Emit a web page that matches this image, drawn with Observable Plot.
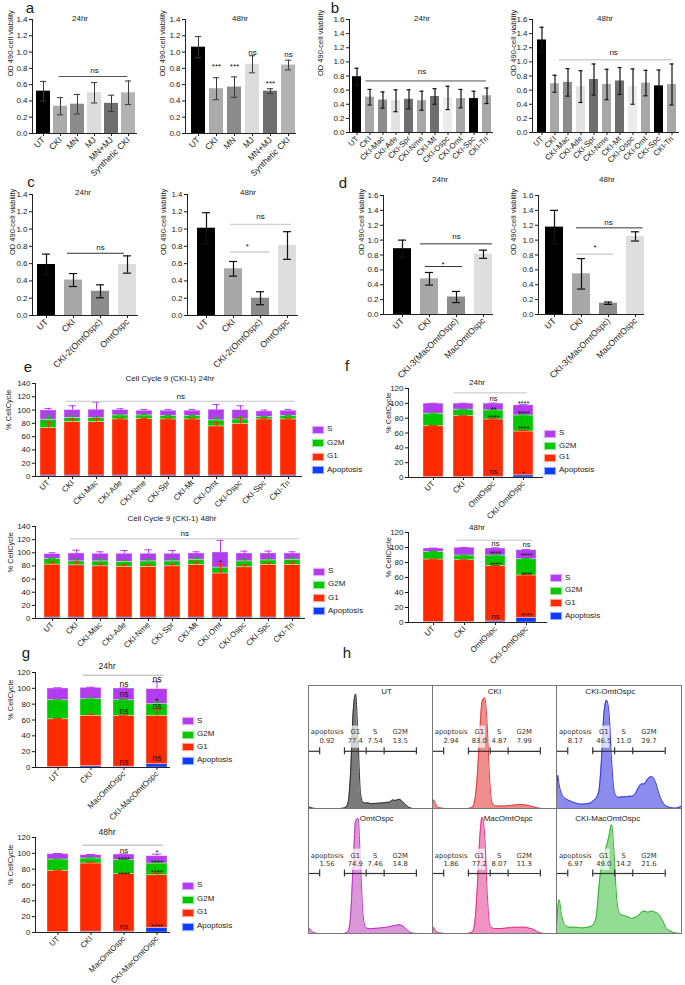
<!DOCTYPE html>
<html><head><meta charset="utf-8">
<script src="https://cdn.jsdelivr.net/npm/d3@7"></script>
<script src="https://cdn.jsdelivr.net/npm/@observablehq/plot@0.6"></script>
<style>
html,body{margin:0;padding:0;background:#fff;}
#root{position:relative;width:685px;height:985px;overflow:hidden;background:#fff;font-family:"Liberation Sans",Arial,sans-serif;}
</style></head>
<body><div id="root"></div>
<script>
// ---------------- DATA ----------------
// Panel a
const aCats = ["UT","CKI","MN","MJ","MN+MJ","Synthetic CKI"];
const aFills = ["#000000","#ababab","#8c8c8c","#dcdcdc","#6f6f6f","#b3b3b3"];
const a24Mean = [0.52,0.335,0.36,0.50,0.37,0.50];
const a24SD   = [0.12,0.105,0.12,0.125,0.10,0.145];
const a48Mean = [1.06,0.55,0.57,0.85,0.52,0.84];
const a48SD   = [0.13,0.135,0.125,0.105,0.03,0.06];
const a24Brackets = [["CKI","Synthetic CKI",0.70]];
const a24Notes = [["MJ","MJ",0.78,"ns"]];
const a48Notes = [["CKI","CKI",0.855,"***"],["MN","MN",0.855,"***"],["MJ","MJ",1.0,"ns"],["MN+MJ","MN+MJ",0.65,"***"],["Synthetic CKI","Synthetic CKI",0.97,"ns"]];

// Panel b
const bCats = ["UT","CKI","CKI-Mac","CKI-Ade","CKI-Spr","CKI-Nme","CKI-Mt","CKI-Ospc","CKI-Omt","CKI-Spc","CKI-Tri"];
const bFills = ["#000000","#a8a8a8","#8c8c8c","#e2e2e2","#6e6e6e","#a8a8a8","#6e6e6e","#ececec","#a8a8a8","#000000","#a8a8a8"];
const b24Mean = [0.79,0.50,0.46,0.45,0.47,0.45,0.51,0.49,0.48,0.48,0.52];
const b24SD   = [0.12,0.11,0.115,0.155,0.135,0.135,0.11,0.165,0.13,0.105,0.11];
const b48Mean = [1.31,0.69,0.71,0.65,0.75,0.68,0.73,0.65,0.70,0.66,0.68];
const b48SD   = [0.18,0.12,0.195,0.225,0.22,0.215,0.19,0.25,0.18,0.225,0.29];
const b24Brackets = [["CKI","CKI-Tri",0.73]];
const b24Notes = [["CKI-Nme","CKI-Nme",0.86,"ns"]];
const b48Brackets = [["CKI","CKI-Tri",1.03]];
const b48Notes = [["CKI-Nme","CKI-Mt",1.14,"ns"]];

// Panel c
const cCats = ["UT","CKI","CKI-2(OmtOspc)","OmtOspc"];
const cFills = ["#000000","#a8a8a8","#8c8c8c","#dedede"];
const c24Mean = [0.59,0.41,0.28,0.59];
const c24SD   = [0.12,0.075,0.075,0.10];
const c48Mean = [1.01,0.54,0.20,0.81];
const c48SD   = [0.18,0.085,0.075,0.16];
const c24Brackets = [["CKI","OmtOspc",0.72]];
const c24Notes = [["CKI-2(OmtOspc)","CKI-2(OmtOspc)",0.79,"ns"]];
const c48Brackets = [["CKI","OmtOspc",1.055],["CKI","CKI-2(OmtOspc)",0.735]];
const c48Notes = [["CKI-2(OmtOspc)","CKI-2(OmtOspc)",1.15,"ns"],["CKI","CKI-2(OmtOspc)",0.83,"*"]];

// Panel d
const dCats = ["UT","CKI","CKI-3(MacOmtOspc)","MacOmtOspc"];
const dFills = ["#000000","#a8a8a8","#8c8c8c","#dedede"];
const d24Mean = [0.885,0.48,0.235,0.81];
const d24SD   = [0.115,0.085,0.075,0.055];
const d48Mean = [1.175,0.547,0.152,1.05];
const d48SD   = [0.225,0.205,0.016,0.062];
const d24Brackets = [["CKI","MacOmtOspc",0.95],["CKI","CKI-3(MacOmtOspc)",0.645]];
const d24Notes = [["CKI-3(MacOmtOspc)","CKI-3(MacOmtOspc)",1.055,"ns"],["CKI","CKI-3(MacOmtOspc)",0.71,"*"]];
const d48Brackets = [["CKI","MacOmtOspc",1.165],["CKI","CKI-3(MacOmtOspc)",0.81]];
const d48Notes = [["CKI-3(MacOmtOspc)","CKI-3(MacOmtOspc)",1.24,"ns"],["CKI","CKI-3(MacOmtOspc)",0.93,"*"]];

// Cell cycle phases
const PHASES = ["Apoptosis","G1","G2M","S"];
const PHASE_COLORS = ["#0a3cff","#ff2a00","#00c800","#b43cf0"];

// Panel e
const eCats = ["UT","CKI","CKI-Mac","CKI-Ade","CKI-Nme","CKI-Spr","CKI-Mt","CKI-Omt","CKI-Ospc","CKI-Spc","CKI-Tri"];
const e24Apop = [1.5,1.5,1.5,1.5,1.5,1.5,1.5,1.5,1.5,1.5,1.5];
const e24G1   = [71.5,80.5,80.5,84.5,85,84.5,84.5,74,77.5,84.5,84.5];
const e24G2M  = [12.5,6,6,6,5.5,5,5,9,7,3.5,5];
const e24S    = [14,12,12.5,8,7,8,8,16,14,8.5,8];
const e24ErrS   = [3,6.5,11.5,2,2,2,2,8,6.5,2,2];
const e24ErrG2M = [5.5,3,1.5,1,1.5,1,1,3.5,4,1,1];
const e24ErrG1  = [8.5,4,5,1,1,1,1,6,9,1,1];
const e24Brackets = [["CKI","CKI-Tri",113.3]];
const e24Notes = [["CKI-Spr","CKI-Mt",121,"ns"]];

const e48Apop = [1.5,1.5,1.5,1.5,1.5,1.5,1.5,1.5,1.5,1.5,1.5];
const e48G1   = [80.5,79.5,78,77,77,78,80,67,76.5,80,80];
const e48G2M  = [8.5,6,7.5,7.5,8.5,7.5,8,9,9,7,8];
const e48S    = [7.5,12,11.5,12.5,11.5,11.5,9.5,23,12,10.5,9.5];
const e48ErrS   = [2,5,3,5,6,5,2.5,18.5,3.5,3.5,2.5];
const e48ErrG2M = [1,2.5,3,2.5,2.5,3,2.5,0,2.5,3,2.5];
const e48ErrG1  = [4,5,3,3,3,3,4.5,14,4,2.5,4.5];
const e48Brackets = [["CKI","CKI-Tri",121.2]];
const e48Notes = [["CKI-Spr","CKI-Mt",129.5,"ns"],["CKI-Omt","CKI-Omt",89.4,"*"]];

// Panel f
const fCats = ["UT","CKI","OmtOspc","CKI-OmtOspc"];
const f24Apop = [0.5,0.5,1,3];
const f24G1   = [68.7,82.3,77.3,59];
const f24G2M  = [16.8,8.6,12.2,21.7];
const f24S    = [13.6,8.2,9.1,13.6];
const f24ErrS   = [0.5,0.5,0.8,0.8];
const f24ErrG2M = [0.8,0.5,0.8,0.8];
const f24ErrG1  = [0.8,0.5,0.8,1.5];
const f24Brackets = [["CKI","CKI-OmtOspc",114.1]];
const f24Notes = [["OmtOspc","OmtOspc",106,"ns"],["OmtOspc","OmtOspc",95,"**"],["OmtOspc","OmtOspc",84.6,"****"],["OmtOspc","OmtOspc",8.1,"ns"],
  ["CKI-OmtOspc","CKI-OmtOspc",103,"****"],["CKI-OmtOspc","CKI-OmtOspc",89.6,"****"],["CKI-OmtOspc","CKI-OmtOspc",68.8,"****"],["CKI-OmtOspc","CKI-OmtOspc",8,"*"]];

const f48Apop = [0.5,0.5,1.5,6.2];
const f48G1   = [83.5,82.6,73.6,56.5];
const f48G2M  = [10.2,6.2,14.2,21.7];
const f48S    = [4.5,10.3,9.4,12];
const f48ErrS   = [0.5,0.5,0.8,0.8];
const f48ErrG2M = [0.5,0.5,0.8,0.8];
const f48ErrG1  = [0.5,0.5,0.8,1];
const f48Brackets = [["CKI","CKI-OmtOspc",109.8]];
const f48Notes = [["OmtOspc","OmtOspc",105.3,"ns"],["OmtOspc","OmtOspc",95.1,"****"],["OmtOspc","OmtOspc",80.9,"****"],["OmtOspc","OmtOspc",8.4,"ns"],
  ["CKI-OmtOspc","CKI-OmtOspc",104,"ns"],["CKI-OmtOspc","CKI-OmtOspc",92,"****"],["CKI-OmtOspc","CKI-OmtOspc",67.6,"****"],["CKI-OmtOspc","CKI-OmtOspc",12.9,"****"]];

// Panel g
const gCats = ["UT","CKI","MacOmtOspc","CKI-MacOmtOspc"];
const g24Apop = [0.5,1.7,1,4.2];
const g24G1   = [60.5,63.6,64.3,61.1];
const g24G2M  = [24,21,19.7,14.7];
const g24S    = [14.8,14.3,14.8,19];
const g24ErrS   = [0.8,0.8,0.5,9.2];
const g24ErrG2M = [0.5,1.5,0.8,2.5];
const g24ErrG1  = [0.8,2.1,0.8,8.4];
const g24Brackets = [["CKI","CKI-MacOmtOspc",116.6]];
const g24Notes = [["MacOmtOspc","MacOmtOspc",105.3,"ns"],["MacOmtOspc","MacOmtOspc",92.6,"ns"],["MacOmtOspc","MacOmtOspc",71.2,"ns"],["MacOmtOspc","MacOmtOspc",7.2,"ns"],
  ["CKI-MacOmtOspc","CKI-MacOmtOspc",112,"ns"],["CKI-MacOmtOspc","CKI-MacOmtOspc",87.2,"*"],["CKI-MacOmtOspc","CKI-MacOmtOspc",77.5,"ns"],["CKI-MacOmtOspc","CKI-MacOmtOspc",12.2,"ns"]];

const g48Apop = [0.5,1,1,5.9];
const g48G1   = [77.4,86.2,72.7,66.5];
const g48G2M  = [14.3,6.3,17.7,14.8];
const g48S    = [6.8,4.2,7.1,9.2];
const g48ErrS   = [0.8,0.8,0.8,2.6];
const g48ErrG2M = [0.5,0.8,0.8,2.1];
const g48ErrG1  = [0.8,1.6,0.8,2.1];
const g48Brackets = [["CKI","CKI-MacOmtOspc",110.3]];
const g48Notes = [["MacOmtOspc","MacOmtOspc",103.2,"ns"],["MacOmtOspc","MacOmtOspc",95.6,"****"],["MacOmtOspc","MacOmtOspc",76.6,"****"],["MacOmtOspc","MacOmtOspc",8,"ns"],
  ["CKI-MacOmtOspc","CKI-MacOmtOspc",104,"*"],["CKI-MacOmtOspc","CKI-MacOmtOspc",92.2,"****"],["CKI-MacOmtOspc","CKI-MacOmtOspc",79.6,"****"],["CKI-MacOmtOspc","CKI-MacOmtOspc",11.4,"****"]];

// Panel h (flow cytometry histograms, relative counts on channel 0-100)
const hX = [0,1,2,4,6,8,10,15,20,25,28,30,32,34,36,38,40,42,44,46,48,50,52,55,58,60,63,65,68,70,73,76,79,82,85,88,91,95,100];
const hUT  = [0.01,0.012,0.006,0.002,0,0,0,0,0,0,0.003,0.01,0.05,0.3,0.78,0.93,0.55,0.12,0.05,0.045,0.045,0.04,0.04,0.042,0.045,0.045,0.05,0.05,0.07,0.065,0.075,0.055,0.025,0.005,0,0,0,0,0];
const hCKI = [0.03,0.07,0.05,0.012,0.005,0.002,0,0,0,0,0,0.003,0.01,0.06,0.25,0.6,0.87,0.9,0.7,0.25,0.05,0.022,0.02,0.02,0.02,0.022,0.025,0.027,0.03,0.032,0.03,0.027,0.02,0.012,0.004,0,0,0,0];
const hCKIOmtOspc = [0.1,0.27,0.2,0.12,0.09,0.075,0.065,0.045,0.035,0.04,0.05,0.07,0.09,0.15,0.4,0.78,0.88,0.78,0.4,0.15,0.1,0.09,0.095,0.095,0.1,0.1,0.12,0.16,0.2,0.2,0.24,0.26,0.22,0.12,0.05,0.02,0.008,0.003,0.02];
const hOmtOspc = [0.02,0.04,0.025,0.008,0.003,0,0,0,0,0,0,0.005,0.02,0.15,0.55,0.9,0.92,0.55,0.15,0.05,0.04,0.038,0.04,0.042,0.045,0.047,0.05,0.055,0.06,0.065,0.07,0.06,0.035,0.01,0.002,0,0,0,0];
const hMacOmtOspc = [0.02,0.05,0.03,0.01,0.004,0.002,0,0,0,0,0,0.004,0.012,0.08,0.35,0.75,0.93,0.8,0.35,0.08,0.045,0.04,0.04,0.04,0.042,0.045,0.047,0.05,0.05,0.05,0.052,0.048,0.04,0.03,0.012,0.003,0,0,0];
const hCKIMacOmtOspc = [0.05,0.2,0.27,0.15,0.08,0.06,0.05,0.05,0.045,0.05,0.06,0.08,0.15,0.38,0.55,0.62,0.7,0.78,0.87,0.65,0.3,0.17,0.15,0.14,0.13,0.12,0.13,0.14,0.17,0.18,0.17,0.18,0.17,0.15,0.1,0.04,0.02,0.005,0];
const hNames = ["UT","CKI","CKI-OmtOspc","OmtOspc","MacOmtOspc","CKI-MacOmtOspc"];
const hApop = ["0.92","2.94","8.17","1.56","1.86","6.97"];
const hG1   = ["77.4","83.0","46.5","74.9","77.2","49.0"];
const hS    = ["7.54","4.87","11.0","7.46","8.07","14.2"];
const hG2M  = ["13.5","7.99","29.7","14.8","11.3","21.6"];
const gateEdges = [0, 9, 29, 46.5, 61, 87];
const gateNames = ["apoptosis","G1","S","G2M"];

// ---------------- HELPERS ----------------
const FONT = '"Liberation Sans", Arial, Helvetica, sans-serif';
const root = document.getElementById("root");
function addText(txt, cx, cy, size, extra = "") {
  const d = document.createElement("div");
  d.textContent = txt;
  d.style.cssText = `position:absolute;left:${cx}px;top:${cy}px;transform:translate(-50%,-50%);font-size:${size}px;font-family:${FONT};white-space:nowrap;line-height:1;color:#1a1a1a;${extra}`;
  root.appendChild(d);
}
function mount(svg, left, top) {
  svg.style.position = "absolute";
  svg.style.left = left + "px";
  svg.style.top = top + "px";
  root.appendChild(svg);
}
const baseStyle = {fontFamily: FONT, fontSize: "8px", color: "#1a1a1a", background: "transparent", overflow: "visible"};

function layout(o, n) {
  const ML = 50, MR = 10, MT = 10, MB = o.mb || 85;
  const step = (o.lastC - o.firstC) / (n - 1);
  const left = o.axisX - ML;
  return {ML, MR, MT, MB, step, left, top: o.yTop - MT,
    width: ML + (o.axisEnd - o.axisX) + MR,
    height: MT + (o.yBot - o.yTop) + MB,
    r0: o.firstC - step / 2 - left, r1: o.lastC + step / 2 - left,
    bw: step * (1 - o.pad)};
}
function commonMarks(o, L, cats) {
  const m = [];
  (o.brackets || []).forEach(([a, b, y], j) => {
    const st = (o.brkStyle || [])[j] || {};
    m.push(Plot.ruleY([{a, b, y}], {x1: "a", x2: "b", y: "y", stroke: st.color || "#555", strokeWidth: st.w || 1,
      insetLeft: st.il != null ? st.il : L.bw * 0.2, insetRight: st.ir != null ? st.ir : L.bw * 0.2}));
  });
  (o.notes || []).forEach(([a, b, y, t]) => {
    const dx = L.step * (cats.indexOf(b) - cats.indexOf(a)) / 2;
    const star = /^\*+$/.test(t);
    m.push(Plot.text([{a, y, t}], {x: "a", y: "y", text: "t", dx, dy: star ? 2.5 : 0, fontSize: o.noteSize || 8, fill: "#111"}));
  });
  m.push(Plot.ruleY([0], {stroke: "#222", strokeWidth: 1}));
  m.push(Plot.frame({anchor: "left", stroke: "#222", strokeWidth: 1}));
  m.push(Plot.axisY({ticks: o.ticks, tickSize: 3, tickPadding: 2, tickFormat: o.fmt, label: null}));
  m.push(Plot.axisX({tickRotate: -45, tickSize: 3, tickPadding: 2, label: null, fontSize: o.xFont || 8}));
  m.push(Plot.text([o.ylabel], {text: d => d, frameAnchor: "left", rotate: -90, dx: -(o.axisX - o.ylabelX), fontSize: 7.5, fill: "#1a1a1a"}));
  return m;
}
function barChart(o) {
  const L = layout(o, o.cats.length);
  const rows = o.cats.map((k, i) => ({k, v: o.mean[i], sd: o.sd[i], fill: o.fills[i]}));
  const cap = L.bw * 0.27;
  const marks = [
    Plot.barY(rows, {x: "k", y: "v", fill: "fill"}),
    Plot.ruleX(rows, {x: "k", y1: d => d.v - d.sd, y2: d => d.v + d.sd, stroke: o.err, strokeWidth: o.errW}),
    Plot.tickY(rows, {x: "k", y: d => d.v + d.sd, stroke: o.err, strokeWidth: o.errW, insetLeft: cap, insetRight: cap}),
    Plot.tickY(rows, {x: "k", y: d => d.v - d.sd, stroke: o.err, strokeWidth: o.errW, insetLeft: cap, insetRight: cap}),
    ...commonMarks(o, L, o.cats)
  ];
  const svg = Plot.plot({
    width: L.width, height: L.height,
    marginLeft: L.ML, marginRight: L.MR, marginTop: L.MT, marginBottom: L.MB,
    style: baseStyle,
    x: {type: "band", domain: o.cats, range: [L.r0, L.r1], paddingInner: o.pad, paddingOuter: o.pad / 2, align: 0.5, label: null},
    y: {domain: [0, o.yMax], label: null},
    color: {type: "identity"},
    marks
  });
  mount(svg, L.left, L.top);
}
function stackChart(o) {
  const L = layout(o, o.cats.length);
  const long = [];
  o.cats.forEach((k, i) => PHASES.forEach(p => long.push({k, phase: p, v: o.parts[p][i]})));
  const errRows = [];
  o.cats.forEach((k, i) => {
    let cum = 0;
    PHASES.forEach(p => {
      cum += o.parts[p][i];
      const e = o.errs[p] ? o.errs[p][i] : 0;
      if (e > 0) errRows.push({k, phase: p, y1: cum, y2: cum + e});
    });
  });
  const cap = L.bw * 0.28;
  const marks = [
    Plot.barY(long, {x: "k", y: "v", fill: "phase", stroke: "white", strokeOpacity: 0.45, strokeWidth: 0.8}),
    Plot.ruleX(errRows, {x: "k", y1: "y1", y2: "y2", stroke: "phase", strokeWidth: 1}),
    Plot.tickY(errRows, {x: "k", y: "y2", stroke: "phase", strokeWidth: 1, insetLeft: cap, insetRight: cap}),
    ...commonMarks(o, L, o.cats)
  ];
  const svg = Plot.plot({
    width: L.width, height: L.height,
    marginLeft: L.ML, marginRight: L.MR, marginTop: L.MT, marginBottom: L.MB,
    style: baseStyle,
    x: {type: "band", domain: o.cats, range: [L.r0, L.r1], paddingInner: o.pad, paddingOuter: o.pad / 2, align: 0.5, label: null},
    y: {domain: [0, o.yMax], label: null},
    color: {domain: PHASES, range: PHASE_COLORS},
    marks
  });
  mount(svg, L.left, L.top);
}
function legend(x, ys) {
  ["S","G2M","G1","Apoptosis"].forEach((p, j) => {
    const sw = document.createElement("div");
    sw.style.cssText = `position:absolute;left:${x}px;top:${ys[j] - 3.5}px;width:10px;height:6px;background:${PHASE_COLORS[PHASES.indexOf(p)]};border:1px solid rgba(255,255,255,0.6);outline:0.5px solid rgba(0,0,0,0.05)`;
    root.appendChild(sw);
    const t = document.createElement("div");
    t.textContent = p;
    t.style.cssText = `position:absolute;left:${x + 15}px;top:${ys[j]}px;transform:translateY(-50%);font-size:8px;font-family:${FONT};line-height:1;color:#1a1a1a;white-space:nowrap`;
    root.appendChild(t);
  });
}
const odTicks14 = d3.range(0, 1.4001, 0.2);
const odTicks16 = d3.range(0, 1.6001, 0.2);
const f1 = d => d.toFixed(1);
const OD = "OD 490-cell viability";
const CC = "% CellCycle";

// ---------------- PANELS a-d ----------------
barChart({cats: aCats, fills: aFills, mean: a24Mean, sd: a24SD, axisX: 32, axisEnd: 137, firstC: 40.5, lastC: 129.5, yTop: 19, yBot: 133, yMax: 1.4, ticks: odTicks14, fmt: f1, pad: 0.2, xFont: 8.5,
  err: "#3a3a3a", errW: 1, ylabel: OD, ylabelX: 10, brackets: a24Brackets, brkStyle: [{color: "#555", il: 5.7, ir: 7.6}], notes: a24Notes});
barChart({cats: aCats, fills: aFills, mean: a48Mean, sd: a48SD, axisX: 185, axisEnd: 296, firstC: 198, lastC: 288.5, yTop: 19, yBot: 133, yMax: 1.4, ticks: odTicks14, fmt: f1, pad: 0.2, xFont: 8.5,
  err: "#3a3a3a", errW: 1, ylabel: OD, ylabelX: 162, notes: a48Notes});
barChart({cats: bCats, fills: bFills, mean: b24Mean, sd: b24SD, axisX: 349, axisEnd: 493, firstC: 356, lastC: 487.5, yTop: 19, yBot: 132, yMax: 1.6, ticks: odTicks16, fmt: f1, pad: 0.3, xFont: 7.8,
  err: "#111", errW: 1.2, ylabel: OD, ylabelX: 320, brackets: b24Brackets, brkStyle: [{color: "#555", il: 0.5, ir: 5}], notes: b24Notes});
barChart({cats: bCats, fills: bFills, mean: b48Mean, sd: b48SD, axisX: 532, axisEnd: 679, firstC: 541, lastC: 673, yTop: 19, yBot: 132, yMax: 1.6, ticks: odTicks16, fmt: f1, pad: 0.3, xFont: 7.8,
  err: "#111", errW: 1.2, ylabel: OD, ylabelX: 513, brackets: b48Brackets, brkStyle: [{color: "#cfcfcf", w: 1.5, il: 9, ir: 4.5}], notes: b48Notes});
barChart({cats: cCats, fills: cFills, mean: c24Mean, sd: c24SD, axisX: 32, axisEnd: 138, firstC: 46, lastC: 128, yTop: 194, yBot: 315, yMax: 1.4, ticks: odTicks14, fmt: f1, pad: 0.33, xFont: 8.7,
  err: "#111", errW: 1.2, ylabel: OD, ylabelX: 12, brackets: c24Brackets, brkStyle: [{color: "#333", il: 3, ir: 12}], notes: c24Notes});
barChart({cats: cCats, fills: cFills, mean: c48Mean, sd: c48SD, axisX: 187, axisEnd: 298, firstC: 205.5, lastC: 288, yTop: 194, yBot: 315, yMax: 1.4, ticks: odTicks14, fmt: f1, pad: 0.33, xFont: 8.7,
  err: "#111", errW: 1.2, ylabel: OD, ylabelX: 163, brackets: c48Brackets, brkStyle: [{color: "#cfcfcf", w: 1.3, il: 6, ir: 5}, {color: "#cfcfcf", w: 1.3, il: 6, ir: 0}], notes: c48Notes});
barChart({cats: dCats, fills: dFills, mean: d24Mean, sd: d24SD, axisX: 383, axisEnd: 493, firstC: 402, lastC: 484, yTop: 195, yBot: 314, yMax: 1.6, ticks: odTicks16, fmt: f1, pad: 0.33, xFont: 8.7,
  err: "#111", errW: 1.2, ylabel: OD, ylabelX: 361, brackets: d24Brackets, brkStyle: [{color: "#333", il: 0, ir: 0}, {color: "#333", il: 5, ir: 3}], notes: d24Notes});
barChart({cats: dCats, fills: dFills, mean: d48Mean, sd: d48SD, axisX: 538, axisEnd: 644, firstC: 554, lastC: 635.5, yTop: 195, yBot: 314, yMax: 1.6, ticks: odTicks16, fmt: f1, pad: 0.33, xFont: 8.7,
  err: "#111", errW: 1.2, ylabel: OD, ylabelX: 513, brackets: d48Brackets, brkStyle: [{color: "#333", il: 4, ir: 1.5}, {color: "#cfcfcf", w: 1.3, il: 4, ir: 4}], notes: d48Notes});

// ---------------- PANELS e-g ----------------
const ccTicks140 = d3.range(0, 141, 20);
const ccTicks120 = d3.range(0, 121, 20);
const fi = d => String(d);
stackChart({cats: eCats, parts: {Apoptosis: e24Apop, G1: e24G1, G2M: e24G2M, S: e24S}, errs: {G1: e24ErrG1, G2M: e24ErrG2M, S: e24ErrS},
  axisX: 35, axisEnd: 302, firstC: 45, lastC: 291, yTop: 383, yBot: 476, yMax: 140, ticks: ccTicks140, fmt: fi, pad: 0.35,
  ylabel: CC, ylabelX: 8, brackets: e24Brackets, brkStyle: [{color: "#c4c4c4", il: 1.5, ir: 1}], notes: e24Notes});
stackChart({cats: eCats, parts: {Apoptosis: e48Apop, G1: e48G1, G2M: e48G2M, S: e48S}, errs: {G1: e48ErrG1, G2M: e48ErrG2M, S: e48ErrS},
  axisX: 35, axisEnd: 305, firstC: 50, lastC: 293.5, yTop: 526, yBot: 618, yMax: 140, ticks: ccTicks140, fmt: fi, pad: 0.35,
  ylabel: CC, ylabelX: 10, brackets: e48Brackets, brkStyle: [{color: "#c4c4c4", il: 2, ir: 1.5}], notes: e48Notes});
stackChart({cats: fCats, parts: {Apoptosis: f24Apop, G1: f24G1, G2M: f24G2M, S: f24S}, errs: {G1: f24ErrG1, G2M: f24ErrG2M, S: f24ErrS},
  axisX: 408, axisEnd: 543, firstC: 432, lastC: 524, yTop: 388, yBot: 477, yMax: 120, ticks: ccTicks120, fmt: fi, pad: 0.35,
  ylabel: CC, ylabelX: 388, brackets: f24Brackets, brkStyle: [{color: "#c4c4c4", il: 1, ir: 6}], notes: f24Notes, noteSize: 7.5});
stackChart({cats: fCats, parts: {Apoptosis: f48Apop, G1: f48G1, G2M: f48G2M, S: f48S}, errs: {G1: f48ErrG1, G2M: f48ErrG2M, S: f48ErrS},
  axisX: 408, axisEnd: 547, firstC: 432.5, lastC: 526.5, yTop: 532, yBot: 622, yMax: 120, ticks: ccTicks120, fmt: fi, pad: 0.35,
  ylabel: CC, ylabelX: 388, brackets: f48Brackets, brkStyle: [{color: "#c4c4c4", il: 2.4, ir: 3.7}], notes: f48Notes, noteSize: 7.5});
stackChart({cats: gCats, parts: {Apoptosis: g24Apop, G1: g24G1, G2M: g24G2M, S: g24S}, errs: {G1: g24ErrG1, G2M: g24ErrG2M, S: g24ErrS},
  axisX: 35, axisEnd: 170, firstC: 57, lastC: 156.5, yTop: 672, yBot: 767, yMax: 120, ticks: ccTicks120, fmt: fi, pad: 0.35, xFont: 8.1,
  ylabel: CC, ylabelX: 10, brackets: g24Brackets, brkStyle: [{color: "#b0b0b0", il: 2.6, ir: 4}], notes: g24Notes, noteSize: 8.5});
stackChart({cats: gCats, parts: {Apoptosis: g48Apop, G1: g48G1, G2M: g48G2M, S: g48S}, errs: {G1: g48ErrG1, G2M: g48ErrG2M, S: g48ErrS},
  axisX: 35, axisEnd: 170, firstC: 57, lastC: 156.5, yTop: 837, yBot: 932, yMax: 120, ticks: ccTicks120, fmt: fi, pad: 0.35, xFont: 7.8, mb: 52,
  ylabel: CC, ylabelX: 10, brackets: g48Brackets, brkStyle: [{color: "#b0b0b0", il: 2.6, ir: 4}], notes: g48Notes, noteSize: 8});

legend(312, [429, 442.5, 456, 469.5]);
legend(313, [571, 584.3, 597.7, 610.7]);
legend(544, [433.3, 445.7, 457.3, 470]);
legend(550, [577.7, 590, 602.7, 615.7]);
legend(182, [720.7, 734, 746.7, 760]);
legend(182, [885, 899, 912, 926]);

// ---------------- PANEL h ----------------
const hCounts = [hUT, hCKI, hCKIOmtOspc, hOmtOspc, hMacOmtOspc, hCKIMacOmtOspc];
const hStroke = ["#2e2e2e","#e23a3a","#3434e0","#c42cc4","#e2307f","#2fae2f"];
const hFill   = ["#7b7b7b","#f08e8e","#8c8cef","#d996d9","#f093c2","#93dc93"];
const hTitleX = [63, 50, 43, 55, 61, 41];
const cellX = [308, 432, 556], cellW = [124, 124, 125];
const cellY = [685, 808], cellH = [123, 125];
const FACS_FONT = '"DejaVu Sans", Verdana, sans-serif';
hNames.forEach((name, i) => {
  const col = i % 3, row = Math.floor(i / 3);
  const pts = hX.map((x, j) => ({x, y: hCounts[i][j]}));
  const gy = row ? 0.48 : 0.465, ly1 = row ? 0.625 : 0.62, ly2 = row ? 0.56 : 0.553, ty = row ? 0.92 : 0.95;
  const gates = [[gateEdges[0], gateEdges[1]], [gateEdges[2], gateEdges[3]], [gateEdges[3], gateEdges[4]], [gateEdges[4], gateEdges[5]]];
  const labX = [15, (gateEdges[2] + gateEdges[3]) / 2, (gateEdges[3] + gateEdges[4]) / 2, (gateEdges[4] + gateEdges[5]) / 2];
  const vals = [hApop[i], hG1[i], hS[i], hG2M[i]];
  const labs = gateNames.map((g, j) => ({g, v: vals[j], x: labX[j]}));
  const svg = Plot.plot({
    width: cellW[col], height: cellH[row], margin: 0,
    style: {...baseStyle, fontFamily: FACS_FONT},
    x: {domain: [0, 100], axis: null}, y: {domain: [0, 1], axis: null},
    marks: [
      Plot.areaY(pts, {x: "x", y: "y", fill: hFill[i], curve: "monotone-x"}),
      Plot.lineY(pts, {x: "x", y: "y", stroke: hStroke[i], strokeWidth: 1, curve: "monotone-x"}),
      Plot.rect([labs[1]], {x1: d => d.x - 5, x2: d => d.x + 5, y1: () => gy + 0.025, y2: () => ly1 + 0.05, fill: "white", fillOpacity: 0.7}),
      Plot.ruleY(gates, {x1: d => d[0], x2: d => d[1], y: () => gy, stroke: "#333", strokeWidth: 1.2}),
      Plot.ruleX(gateEdges.slice(1), {x: d => d, y1: () => gy - 0.028, y2: () => gy + 0.028, stroke: "#333", strokeWidth: 1.2}),
      Plot.text(labs, {x: "x", y: () => ly1, text: "g", fontSize: 6.8, fill: "#333"}),
      Plot.text(labs, {x: "x", y: () => ly2, text: "v", fontSize: 6.8, fill: "#333"}),
      Plot.text([name], {x: () => hTitleX[i], y: () => ty, text: d => d, fontSize: 8, fontFamily: FONT, fill: "#222"}),
      Plot.frame({stroke: "#777"})
    ]
  });
  mount(svg, cellX[col], cellY[row]);
});

// ---------------- TITLES & PANEL LETTERS ----------------
addText("24hr", 80, 19, 8); addText("48hr", 240, 19, 8);
addText("24hr", 422, 19, 8); addText("48hr", 605, 19, 8);
addText("24hr", 83, 193, 8); addText("48hr", 248, 193, 8);
addText("24hr", 440, 180, 8); addText("48hr", 607, 180, 8);
addText("Cell Cycle 9 (CKI-1) 24hr", 170, 379, 8);
addText("Cell Cycle 9 (CKI-1) 48hr", 172, 519, 8);
addText("24hr", 477, 383, 8); addText("48hr", 477, 528, 8);
addText("24hr", 107, 666, 8.5); addText("48hr", 107, 832, 8.5);
[["a",30,7],["b",335,7],["c",31,181],["d",343,182],["e",28,366],["f",347,365],["g",26,652],["h",347,652]]
  .forEach(([t, x, y]) => addText(t, x, y, 15));
</script>
</body></html>
